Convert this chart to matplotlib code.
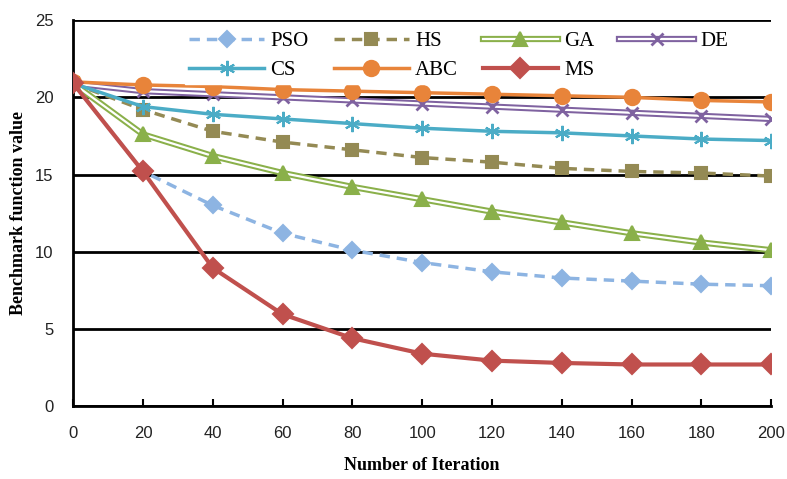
#!/usr/bin/env python3

'''Convergence of benchmark function value for seven optimisers.'''

import matplotlib
matplotlib.use('Agg')
import matplotlib.pyplot as plt
import matplotlib.patheffects as pe
from matplotlib.legend_handler import HandlerTuple


ITERATIONS = [0, 20, 40, 60, 80, 100, 120, 140, 160, 180, 200]

PSO = [20.9, 15.2, 13.0, 11.2, 10.1, 9.3, 8.7, 8.3, 8.1, 7.9, 7.8]
HS = [20.9, 19.2, 17.8, 17.1, 16.6, 16.1, 15.8, 15.4, 15.2, 15.1, 14.9]
GA = [20.9, 17.6, 16.2, 15.1, 14.2, 13.4, 12.6, 11.9, 11.2, 10.6, 10.1]
DE = [20.9, 20.4, 20.2, 20.0, 19.8, 19.6, 19.4, 19.2, 19.0, 18.8, 18.6]
CS = [20.9, 19.4, 18.9, 18.6, 18.3, 18.0, 17.8, 17.7, 17.5, 17.3, 17.2]
ABC = [21.0, 20.8, 20.7, 20.5, 20.4, 20.3, 20.2, 20.1, 20.0, 19.8, 19.7]
MS = [20.9, 15.2, 8.95, 5.95, 4.4, 3.4, 2.95, 2.8, 2.7, 2.7, 2.7]

Y_TICKS = [0, 5, 10, 15, 20, 25]

SERIF = ['Liberation Serif', 'DejaVu Serif']
TICK_FONT = ['Liberation Sans Narrow', 'Liberation Sans', 'DejaVu Sans']


def plain(axis, ys, label, color, marker, msize, style='-', lw=2.5):
    line, = axis.plot(ITERATIONS, ys, linestyle=style, color=color, lw=lw,
                      marker=marker, markersize=msize, markerfacecolor=color,
                      markeredgecolor=color, markeredgewidth=1.5,
                      label=label, zorder=3)
    return line


def double(axis, ys, label, color, marker, msize, mew=1.5):
    '''Double (compound) line: coloured outline with white core.'''
    effects = [pe.Stroke(linewidth=4.5, foreground=color),
               pe.Stroke(linewidth=1.6, foreground='white')]
    base, = axis.plot(ITERATIONS, ys, color=color, lw=4.5,
                      path_effects=effects, zorder=3)
    marks, = axis.plot(ITERATIONS, ys, linestyle='none', marker=marker,
                       markersize=msize, color=color, markerfacecolor=color,
                       markeredgecolor=color, markeredgewidth=mew, zorder=3)
    return (base, marks)


fig = plt.figure(figsize=(7.87, 4.79), dpi=100)
axis = fig.add_axes([0.093, 0.152, 0.887, 0.806])

h_pso = plain(axis, PSO, 'PSO', '#8DB4E2', 'D', 8, style=(0, (3, 2)))
h_hs = plain(axis, HS, 'HS', '#948A54', 's', 9, style=(0, (3, 2)))
h_ga = double(axis, GA, 'GA', '#8AB04A', '^', 10)
h_de = double(axis, DE, 'DE', '#7F62A0', 'x', 9, mew=2)
h_cs = plain(axis, CS, 'CS', '#4BACC6', (6, 2, 0), 11)
h_abc = plain(axis, ABC, 'ABC', '#E8843A', 'o', 11)
h_ms = plain(axis, MS, 'MS', '#C0504D', 'D', 10, lw=3)

axis.set_xlim(0, 200)
axis.set_ylim(0, 25)
axis.set_xticks(ITERATIONS)
axis.set_yticks(Y_TICKS)
axis.yaxis.grid(True, color='black', lw=2)
axis.set_axisbelow(True)
for side in ('top', 'right'):
    axis.spines[side].set_visible(False)
for side in ('left', 'bottom'):
    axis.spines[side].set_linewidth(2)
axis.tick_params(axis='x', direction='in', length=5, width=1.5, pad=14)
axis.tick_params(axis='y', length=0, pad=14)
for lab in axis.get_xticklabels() + axis.get_yticklabels():
    lab.set_family(TICK_FONT)
    lab.set_fontsize(12)
    lab.set_color('#222222')

axis.set_xlabel('Number of Iteration', family=SERIF, fontweight='bold',
                fontsize=13, labelpad=12)
axis.set_ylabel('Benchmark function value', family=SERIF, fontweight='bold',
                fontsize=13, labelpad=6)

# column-wise fill: row 1 PSO HS GA DE, row 2 CS ABC MS
handles = [h_pso, h_cs, h_hs, h_abc, h_ga, h_ms, h_de]
labels = ['PSO', 'CS', 'HS', 'ABC', 'GA', 'MS', 'DE']
leg = fig.legend(handles, labels, ncol=4, loc='upper left',
                 bbox_to_anchor=(0.222, 0.965), frameon=True, fancybox=False,
                 framealpha=1, edgecolor='white', borderpad=0.2,
                 handlelength=3.6, handletextpad=0.3, columnspacing=1.2,
                 labelspacing=0.45, prop={'family': SERIF, 'size': 15},
                 handler_map={tuple: HandlerTuple(ndivide=1, pad=0)})

fig.savefig('out.png', dpi=100)
